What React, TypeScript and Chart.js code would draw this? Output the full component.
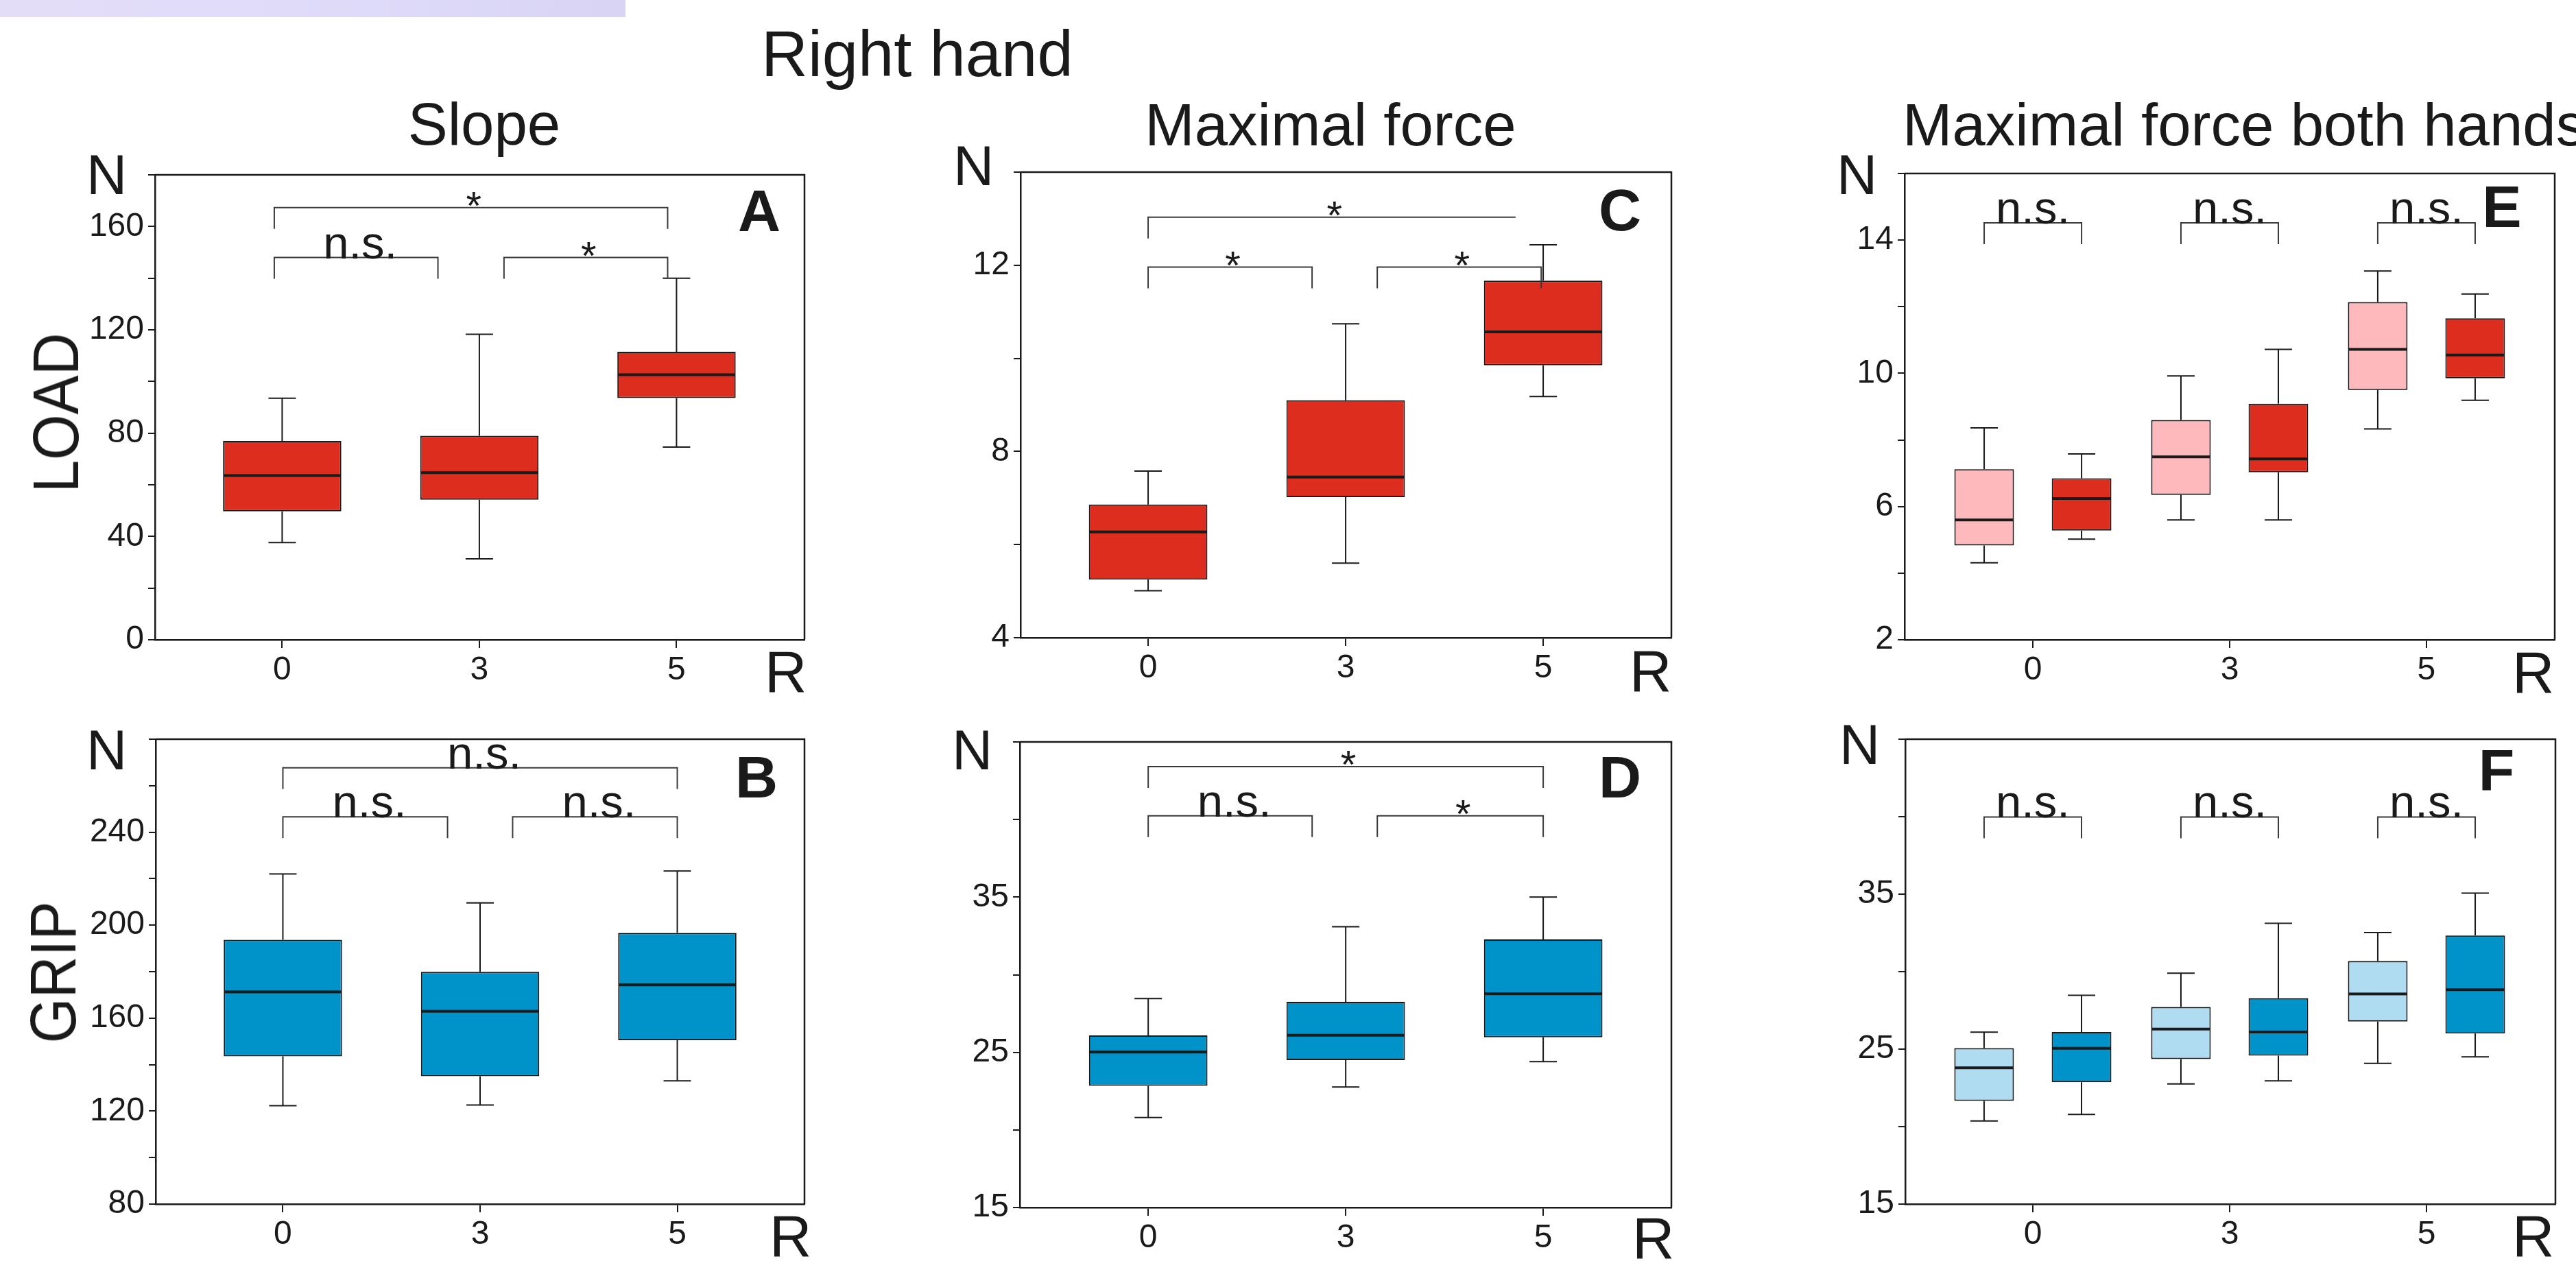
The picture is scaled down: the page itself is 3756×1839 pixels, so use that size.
import React, { useEffect, useRef } from 'react';
import { Chart, registerables } from 'chart.js';

Chart.register(...registerables);

const FONT = "'Liberation Sans', Arial, Helvetica, sans-serif";
const INK = '#1a1a1a';
const RED = '#dc2d1e';
const PINK = '#feb9bd';
const BLUE = '#0093c9';
const LIGHT_BLUE = '#b0dcf2';

// Categories (R)
const rCategories = ['0', '3', '5'];

// Box statistics per category: [min, q1, median, q3, max]
const slopeLoad = [
  [37.6, 49.7, 63.6, 77.0, 93.5],
  [31.3, 54.2, 64.7, 79.0, 118.3],
  [74.6, 93.6, 102.6, 111.5, 140.0],
];
const slopeGrip = [
  [122.3, 143.6, 171.3, 193.7, 222.0],
  [122.6, 135.0, 163.0, 179.9, 209.6],
  [133.0, 150.5, 174.3, 196.7, 223.3],
];
const maxForceLoad = [
  [5.01, 5.25, 6.27, 6.86, 7.58],
  [5.6, 7.02, 7.45, 9.1, 10.74],
  [9.18, 9.85, 10.57, 11.67, 12.44],
];
const maxForceGrip = [
  [20.8, 22.84, 25.02, 26.09, 28.47],
  [22.77, 24.5, 26.1, 28.25, 33.09],
  [24.4, 25.97, 28.77, 32.27, 35.0],
];
const bothLoadLeft = [
  [4.31, 4.83, 5.6, 7.12, 8.36],
  [5.6, 6.35, 7.49, 8.6, 9.92],
  [8.33, 9.5, 10.72, 12.14, 13.07],
];
const bothLoadRight = [
  [5.02, 5.28, 6.24, 6.85, 7.58],
  [5.6, 7.03, 7.43, 9.09, 10.72],
  [9.19, 9.85, 10.55, 11.65, 12.38],
];
const bothGripLeft = [
  [20.37, 21.66, 23.79, 25.07, 26.09],
  [22.75, 24.36, 26.29, 27.72, 29.9],
  [24.08, 26.78, 28.56, 30.69, 32.52],
];
const bothGripRight = [
  [20.79, 22.87, 25.05, 26.11, 28.47],
  [22.95, 24.58, 26.11, 28.29, 33.12],
  [24.5, 26.01, 28.84, 32.33, 35.07],
];

// Labelled y ticks
const slopeLoadTicks = [0, 40, 80, 120, 160];
const slopeGripTicks = [80, 120, 160, 200, 240];
const maxForceLoadTicks = [4, 8, 12];
const maxForceGripTicks = [15, 25, 35];
const bothLoadTicks = [2, 6, 10, 14];
const bothGripTicks = [15, 25, 35];

// Significance brackets (x in category units, level in N)
type Sig = { from?: number; to?: number; pair?: number; level: number; text: string; rightLeg?: boolean };
const slopeLoadSig: Sig[] = [
  { from: -0.04, to: 1.955, level: 167.3, text: '*' },
  { from: -0.04, to: 0.79, level: 148, text: 'n.s.' },
  { from: 1.125, to: 1.955, level: 148, text: '*' },
];
const slopeGripSig: Sig[] = [
  { from: 0, to: 2, level: 267.7, text: 'n.s.' },
  { from: 0, to: 0.835, level: 246.6, text: 'n.s.' },
  { from: 1.165, to: 2, level: 246.6, text: 'n.s.' },
];
const maxForceLoadSig: Sig[] = [
  { from: 0, to: 1.86, level: 13.03, text: '*', rightLeg: false },
  { from: 0, to: 0.83, level: 11.96, text: '*' },
  { from: 1.16, to: 1.99, level: 11.96, text: '*' },
];
const maxForceGripSig: Sig[] = [
  { from: 0, to: 2, level: 43.41, text: '*' },
  { from: 0, to: 0.83, level: 40.24, text: 'n.s.' },
  { from: 1.16, to: 2, level: 40.24, text: '*' },
];
const bothLoadSig: Sig[] = [
  { pair: 0, level: 14.52, text: 'n.s.' },
  { pair: 1, level: 14.52, text: 'n.s.' },
  { pair: 2, level: 14.52, text: 'n.s.' },
];
const bothGripSig: Sig[] = [
  { pair: 0, level: 39.98, text: 'n.s.' },
  { pair: 1, level: 39.98, text: 'n.s.' },
  { pair: 2, level: 39.98, text: 'n.s.' },
];

const YW = 200;
const PT = 40;
const PR = 20;
const XH = 90;
const LEG = 31;
const CAP = 40;

function boxPlugin() {
  return {
    id: 'boxWhiskers',
    beforeDatasetsDraw(chart: any) {
      const { ctx } = chart;
      const ys = chart.scales.y;
      ctx.save();
      ctx.strokeStyle = INK;
      ctx.lineWidth = 2;
      chart.data.datasets.forEach((ds: any, di: number) => {
        const meta = chart.getDatasetMeta(di);
        meta.data.forEach((el: any, i: number) => {
          const s = ds.stats[i];
          const x = el.x;
          const pMin = ys.getPixelForValue(s[0]);
          const pQ1 = ys.getPixelForValue(s[1]);
          const pQ3 = ys.getPixelForValue(s[3]);
          const pMax = ys.getPixelForValue(s[4]);
          ctx.beginPath();
          ctx.moveTo(x, pQ3);
          ctx.lineTo(x, pMax);
          ctx.moveTo(x - CAP / 2, pMax);
          ctx.lineTo(x + CAP / 2, pMax);
          ctx.moveTo(x, pQ1);
          ctx.lineTo(x, pMin);
          ctx.moveTo(x - CAP / 2, pMin);
          ctx.lineTo(x + CAP / 2, pMin);
          ctx.stroke();
        });
      });
      ctx.restore();
    },
    afterDatasetsDraw(chart: any) {
      const { ctx } = chart;
      const ys = chart.scales.y;
      ctx.save();
      ctx.strokeStyle = INK;
      ctx.lineWidth = 4;
      chart.data.datasets.forEach((ds: any, di: number) => {
        const meta = chart.getDatasetMeta(di);
        meta.data.forEach((el: any, i: number) => {
          const s = ds.stats[i];
          const pMed = ys.getPixelForValue(s[2]);
          ctx.beginPath();
          ctx.moveTo(el.x - el.width / 2 + 1, pMed);
          ctx.lineTo(el.x + el.width / 2 - 1, pMed);
          ctx.stroke();
        });
      });
      // frame top & right
      const a = chart.chartArea;
      ctx.lineWidth = 2.5;
      ctx.beginPath();
      ctx.moveTo(a.left, a.top);
      ctx.lineTo(a.right, a.top);
      ctx.lineTo(a.right, a.bottom);
      ctx.stroke();
      ctx.restore();
    },
  };
}

function sigPlugin(items: Sig[]) {
  return {
    id: 'sig',
    afterDatasetsDraw(chart: any) {
      const { ctx } = chart;
      const xs = chart.scales.x;
      const ys = chart.scales.y;
      ctx.save();
      ctx.strokeStyle = '#3a3a3a';
      ctx.lineWidth = 2;
      ctx.fillStyle = INK;
      ctx.textAlign = 'center';
      ctx.textBaseline = 'alphabetic';
      for (const it of items) {
        let x1: number;
        let x2: number;
        const isPair = it.pair !== undefined;
        if (isPair) {
          x1 = chart.getDatasetMeta(0).data[it.pair as number].x;
          x2 = chart.getDatasetMeta(1).data[it.pair as number].x;
        } else {
          x1 = xs.getPixelForValue(it.from);
          x2 = xs.getPixelForValue(it.to);
        }
        const yl = ys.getPixelForValue(it.level);
        ctx.beginPath();
        ctx.moveTo(x1, yl + LEG);
        ctx.lineTo(x1, yl);
        ctx.lineTo(x2, yl);
        if (it.rightLeg !== false) ctx.lineTo(x2, yl + LEG);
        ctx.stroke();
        const cx = (x1 + x2) / 2;
        if (it.text === '*') {
          ctx.font = `58px ${FONT}`;
          ctx.fillText('*', cx + 4, yl + 17);
        } else {
          ctx.font = `67px ${FONT}`;
          ctx.fillText(it.text, cx + (isPair ? 0 : 6), yl + 1);
        }
      }
      ctx.restore();
    },
  };
}

type Series = { stats: number[][]; color: string };
type PanelDef = {
  box: { left: number; top: number; right: number; bottom: number };
  xMin: number;
  xMax: number;
  yMin: number;
  yMax: number;
  yStep: number;
  yLabels: number[];
  series: Series[];
  sig: Sig[];
  barPct: number;
  catPct: number;
};

const panels: PanelDef[] = [
  {
    box: { left: 226, top: 255, right: 1173, bottom: 933 },
    xMin: -0.645, xMax: 2.649, yMin: 0, yMax: 180, yStep: 20, yLabels: slopeLoadTicks,
    series: [{ stats: slopeLoad, color: RED }], sig: slopeLoadSig, barPct: 0.6, catPct: 1,
  },
  {
    box: { left: 227, top: 1078, right: 1173, bottom: 1756 },
    xMin: -0.645, xMax: 2.645, yMin: 80, yMax: 280, yStep: 20, yLabels: slopeGripTicks,
    series: [{ stats: slopeGrip, color: BLUE }], sig: slopeGripSig, barPct: 0.6, catPct: 1,
  },
  {
    box: { left: 1488, top: 251, right: 2437, bottom: 930 },
    xMin: -0.646, xMax: 2.649, yMin: 4, yMax: 14, yStep: 2, yLabels: maxForceLoadTicks,
    series: [{ stats: maxForceLoad, color: RED }], sig: maxForceLoadSig, barPct: 0.6, catPct: 1,
  },
  {
    box: { left: 1487, top: 1082, right: 2437, bottom: 1761 },
    xMin: -0.65, xMax: 2.649, yMin: 15, yMax: 45, yStep: 5, yLabels: maxForceGripTicks,
    series: [{ stats: maxForceGrip, color: BLUE }], sig: maxForceGripSig, barPct: 0.6, catPct: 1,
  },
  {
    box: { left: 2777, top: 253, right: 3725, bottom: 933 },
    xMin: -0.652, xMax: 2.652, yMin: 2, yMax: 16, yStep: 2, yLabels: bothLoadTicks,
    series: [{ stats: bothLoadLeft, color: PINK }, { stats: bothLoadRight, color: RED }],
    sig: bothLoadSig, barPct: 0.612, catPct: 0.99,
  },
  {
    box: { left: 2778, top: 1078, right: 3726, bottom: 1756 },
    xMin: -0.648, xMax: 2.655, yMin: 15, yMax: 45, yStep: 5, yLabels: bothGripTicks,
    series: [{ stats: bothGripLeft, color: LIGHT_BLUE }, { stats: bothGripRight, color: BLUE }],
    sig: bothGripSig, barPct: 0.612, catPct: 0.99,
  },
];

function Panel({ def }: { def: PanelDef }) {
  const ref = useRef<HTMLCanvasElement>(null);
  const { box } = def;
  const w = YW + (box.right - box.left) + PR;
  const h = PT + (box.bottom - box.top) + XH;
  useEffect(() => {
    const canvas = ref.current;
    if (!canvas) return;
    const chart = new Chart(canvas, {
      type: 'bar',
      data: {
        datasets: def.series.map((s) => ({
          data: s.stats.map((st, i) => ({ x: i, y: [st[1], st[3]] })),
          stats: s.stats,
          backgroundColor: s.color,
          borderColor: INK,
          borderWidth: 2,
          borderSkipped: false,
          barPercentage: def.barPct,
          categoryPercentage: def.catPct,
        })) as any,
      },
      options: {
        animation: false,
        responsive: false,
        maintainAspectRatio: false,
        devicePixelRatio: 1,
        layout: { padding: { left: 0, top: PT, right: PR, bottom: 0 } },
        plugins: { legend: { display: false }, tooltip: { enabled: false } },
        scales: {
          x: {
            type: 'linear',
            offset: false,
            min: def.xMin,
            max: def.xMax,
            afterBuildTicks: (s: any) => {
              s.ticks = rCategories.map((_, i) => ({ value: i }));
            },
            afterFit: (s: any) => {
              s.height = XH;
            },
            ticks: {
              callback: (v: any) => rCategories[v] ?? '',
              font: { family: FONT, size: 48 },
              color: INK,
              padding: 4,
              autoSkip: false,
              maxRotation: 0,
            },
            grid: {
              display: true,
              offset: false,
              drawOnChartArea: false,
              drawTicks: true,
              tickLength: 12,
              color: INK,
              lineWidth: 2,
            },
            border: { display: true, color: INK, width: 2.5 },
          },
          y: {
            type: 'linear',
            min: def.yMin,
            max: def.yMax,
            afterFit: (s: any) => {
              s.width = YW;
            },
            ticks: {
              stepSize: def.yStep,
              callback: (v: any) => (def.yLabels.includes(Number(v)) ? String(v) : ''),
              font: { family: FONT, size: 48 },
              color: INK,
              padding: 6,
              autoSkip: false,
            },
            grid: { display: true, drawOnChartArea: false, drawTicks: true, tickLength: 10, color: INK, lineWidth: 2 },
            border: { display: true, color: INK, width: 2.5 },
          },
        },
      } as any,
      plugins: [boxPlugin(), sigPlugin(def.sig)],
    });
    return () => chart.destroy();
  }, []);
  return (
    <canvas
      ref={ref}
      width={w}
      height={h}
      style={{ position: 'absolute', left: box.left - YW, top: box.top - PT, width: w, height: h }}
    />
  );
}

type TxtProps = { x: number; y: number; size: number; text: string; align?: 'left' | 'center'; bold?: boolean };
function Txt({ x, y, size, text, align = 'left', bold = false }: TxtProps) {
  const top = y - 0.8465 * size;
  const style: React.CSSProperties = {
    position: 'absolute',
    top,
    fontSize: size,
    lineHeight: `${size}px`,
    fontFamily: FONT,
    fontWeight: bold ? 700 : 400,
    whiteSpace: 'nowrap',
    color: INK,
  };
  if (align === 'center') {
    style.left = x - 1000;
    style.width = 2000;
    style.textAlign = 'center';
  } else {
    style.left = x;
  }
  return <div style={style}>{text}</div>;
}

function VTxt({ cx, cy, size, text, squeeze }: { cx: number; cy: number; size: number; text: string; squeeze: number }) {
  return (
    <div
      style={{
        position: 'absolute',
        left: cx,
        top: cy,
        fontSize: size,
        lineHeight: `${size}px`,
        fontFamily: FONT,
        whiteSpace: 'nowrap',
        color: INK,
        transform: `translate(-50%, -50%) rotate(-90deg) scaleX(${squeeze})`,
      }}
    >
      {text}
    </div>
  );
}

export default function App() {
  return (
    <div
      style={{
        position: 'absolute',
        left: 0,
        top: 0,
        width: 3756,
        height: 1839,
        background: '#ffffff',
        overflow: 'hidden',
      }}
    >
      <div
        style={{
          position: 'absolute',
          left: 0,
          top: 0,
          width: 912,
          height: 25,
          background: 'linear-gradient(100deg, #e4ddf7 0%, #e0dcfa 40%, #d9d4f4 100%)',
        }}
      />
      {panels.map((p, i) => (
        <Panel key={i} def={p} />
      ))}
      <Txt x={1110} y={112} size={94} text="Right hand" />
      <Txt x={706} y={211} size={87} text="Slope" align="center" />
      <Txt x={1940} y={212} size={87} text="Maximal force" align="center" />
      <Txt x={2774} y={212} size={87} text="Maximal force both hands" />

      <Txt x={126} y={283} size={82} text="N" />
      <Txt x={1390} y={270} size={82} text="N" />
      <Txt x={2678} y={283} size={82} text="N" />
      <Txt x={126} y={1122} size={82} text="N" />
      <Txt x={1388} y={1122} size={82} text="N" />
      <Txt x={2682} y={1114} size={82} text="N" />

      <Txt x={1115} y={1009} size={85} text="R" />
      <Txt x={2376} y={1008} size={85} text="R" />
      <Txt x={3663} y={1010} size={85} text="R" />
      <Txt x={1122} y={1832} size={85} text="R" />
      <Txt x={2380} y={1835} size={85} text="R" />
      <Txt x={3663} y={1832} size={85} text="R" />

      <Txt x={1107} y={337} size={86} text="A" align="center" bold />
      <Txt x={2362} y={336} size={86} text="C" align="center" bold />
      <Txt x={3648} y={331} size={86} text="E" align="center" bold />
      <Txt x={1103} y={1163} size={86} text="B" align="center" bold />
      <Txt x={2362} y={1163} size={86} text="D" align="center" bold />
      <Txt x={3640} y={1153} size={86} text="F" align="center" bold />

      <VTxt cx={82} cy={602} size={94} text="LOAD" squeeze={0.91} />
      <VTxt cx={78} cy={1418} size={94} text="GRIP" squeeze={0.9} />
    </div>
  );
}
